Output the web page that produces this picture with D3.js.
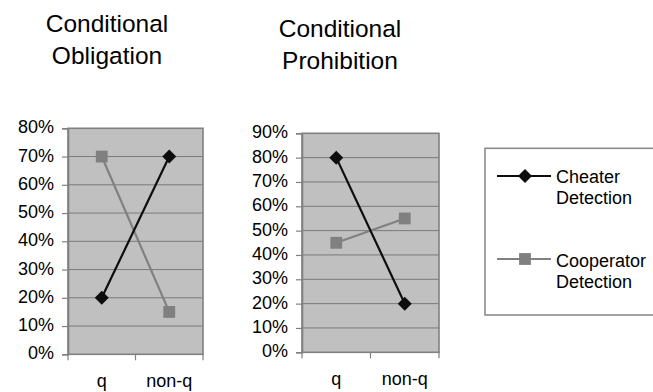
<!DOCTYPE html>
<html>
<head>
<meta charset="utf-8">
<script src="https://cdn.jsdelivr.net/npm/d3@7"></script>
<style>
  html, body { margin: 0; padding: 0; background: #ffffff; }
  svg { display: block; font-family: "Liberation Sans", Arial, sans-serif; }
</style>
</head>
<body>
<svg id="chart" width="653" height="392"></svg>
<script>
// Categories shared by both panels
const categories = ["q", "non-q"];

// Percent of responses for each rule type
const obligationCheater = [20, 70];
const obligationCooperator = [70, 15];
const prohibitionCheater = [80, 20];
const prohibitionCooperator = [45, 55];

// Y-axis tick values per panel
const obligationTicks = [0, 10, 20, 30, 40, 50, 60, 70, 80];
const prohibitionTicks = [0, 10, 20, 30, 40, 50, 60, 70, 80, 90];

// Series names for the legend
const seriesNames = [["Cheater", "Detection"], ["Cooperator", "Detection"]];

const svg = d3.select("#chart");
const cheaterColor = "#0d0d0d";
const cooperatorColor = "#808080";

const diamond = d3.symbol().type(d3.symbolDiamond2 || d3.symbolDiamond).size(125);
const square = d3.symbol().type(d3.symbolSquare).size(140);

function drawPanel(opts) {
  const { left, right, top, bottom, maxVal, ticks, cheater, cooperator, title, titleX, titleY } = opts;

  const x = d3.scaleBand().domain(categories).range([left, right]).padding(0);
  const y = d3.scaleLinear().domain([0, maxVal]).range([bottom, top]);
  const g = svg.append("g");

  // Plot area background
  g.append("rect")
    .attr("x", left).attr("y", top)
    .attr("width", right - left).attr("height", bottom - top)
    .attr("fill", "#c0c0c0");

  // Horizontal gridlines
  g.selectAll("line.grid").data(ticks.filter(t => t > 0 && t < maxVal)).join("line")
    .attr("class", "grid")
    .attr("x1", left).attr("x2", right)
    .attr("y1", d => y(d)).attr("y2", d => y(d))
    .attr("stroke", "#7a7a7a").attr("stroke-width", 1);

  // Plot area border
  g.append("rect")
    .attr("x", left).attr("y", top)
    .attr("width", right - left).attr("height", bottom - top)
    .attr("fill", "none")
    .attr("stroke", "#808080").attr("stroke-width", 1.6);

  // Y axis
  const yAxis = d3.axisLeft(y).tickValues(ticks).tickSize(6).tickPadding(8)
    .tickFormat(d => d + "%");
  const ya = g.append("g").attr("transform", `translate(${left},0)`).call(yAxis);
  ya.select(".domain").attr("stroke", "#808080").attr("stroke-width", 1.6);
  ya.selectAll(".tick line").attr("stroke", "#808080").attr("stroke-width", 1.2);
  ya.selectAll(".tick text")
    .attr("font-size", 18).attr("fill", "#000")
    .attr("dy", null).attr("y", 4.5)
    .attr("font-family", "Liberation Sans, Arial, sans-serif");

  // X axis: boundary ticks and centred category labels
  const bounds = [left].concat(categories.map(c => x(c) + x.bandwidth()));
  g.selectAll("line.xtick").data(bounds).join("line")
    .attr("class", "xtick")
    .attr("x1", d => d).attr("x2", d => d)
    .attr("y1", bottom).attr("y2", bottom + 6)
    .attr("stroke", "#808080").attr("stroke-width", 1.2);
  const xAxis = d3.axisBottom(x).tickSize(0).tickPadding(0);
  const xa = g.append("g").attr("transform", `translate(0,${bottom})`).call(xAxis);
  xa.select(".domain").remove();
  xa.selectAll(".tick text")
    .attr("font-size", 18).attr("fill", "#000")
    .attr("dy", null).attr("y", 32.5)
    .attr("font-family", "Liberation Sans, Arial, sans-serif");

  const cx = c => x(c) + x.bandwidth() / 2;
  const line = d3.line().x((d, i) => cx(categories[i])).y(d => y(d));

  // Cooperator series (grey, squares)
  g.append("path").datum(cooperator)
    .attr("d", line).attr("fill", "none")
    .attr("stroke", cooperatorColor).attr("stroke-width", 2.2);
  g.selectAll("path.coop").data(cooperator).join("path")
    .attr("class", "coop")
    .attr("d", square)
    .attr("transform", (d, i) => `translate(${cx(categories[i])},${y(d)})`)
    .attr("fill", cooperatorColor);

  // Cheater series (black, diamonds)
  g.append("path").datum(cheater)
    .attr("d", line).attr("fill", "none")
    .attr("stroke", cheaterColor).attr("stroke-width", 2.2);
  g.selectAll("path.cheat").data(cheater).join("path")
    .attr("class", "cheat")
    .attr("d", diamond)
    .attr("transform", (d, i) => `translate(${cx(categories[i])},${y(d)})`)
    .attr("fill", cheaterColor);

  // Two-line title
  const t = g.append("text")
    .attr("text-anchor", "middle")
    .attr("font-size", 24.5).attr("fill", "#000");
  title.forEach((line, i) => {
    t.append("tspan").attr("x", titleX).attr("y", titleY + i * 32.3).text(line);
  });
}

drawPanel({
  left: 68, right: 203, top: 128.3, bottom: 354.3, maxVal: 80,
  ticks: obligationTicks,
  cheater: obligationCheater, cooperator: obligationCooperator,
  title: ["Conditional", "Obligation"], titleX: 107, titleY: 32
});

drawPanel({
  left: 302, right: 439, top: 133.3, bottom: 352.3, maxVal: 90,
  ticks: prohibitionTicks,
  cheater: prohibitionCheater, cooperator: prohibitionCooperator,
  title: ["Conditional", "Prohibition"], titleX: 340, titleY: 36.5
});

// Legend
const lg = svg.append("g");
lg.append("rect")
  .attr("x", 485).attr("y", 148.3)
  .attr("width", 180).attr("height", 166.7)
  .attr("fill", "#ffffff")
  .attr("stroke", "#8c8c8c").attr("stroke-width", 1.6);

const legendRows = [
  { color: cheaterColor, sym: diamond, lineY: 176, textY: 183 },
  { color: cooperatorColor, sym: square, lineY: 259, textY: 266.7 }
];
legendRows.forEach((r, i) => {
  lg.append("line")
    .attr("x1", 497).attr("x2", 551)
    .attr("y1", r.lineY).attr("y2", r.lineY)
    .attr("stroke", r.color).attr("stroke-width", 2.2);
  lg.append("path")
    .attr("d", r.sym)
    .attr("transform", `translate(525,${r.lineY})`)
    .attr("fill", r.color);
  const t = lg.append("text").attr("font-size", 18).attr("fill", "#000");
  seriesNames[i].forEach((s, j) => {
    t.append("tspan").attr("x", 556).attr("y", r.textY + j * 21).text(s);
  });
});
</script>
</body>
</html>
